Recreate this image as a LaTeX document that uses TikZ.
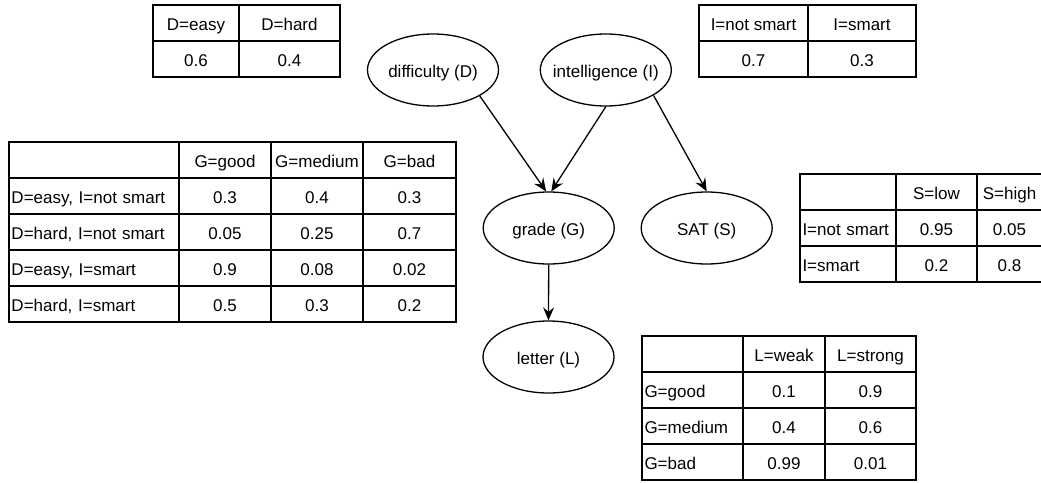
\documentclass[tikz,border=0pt]{standalone}
\usepackage{fontspec}
\setmainfont{Liberation Sans}
\usetikzlibrary{arrows.meta,shapes.geometric}

\tikzset{
  txt/.style={font=\fontsize{17}{20}\selectfont, text height=14pt, text depth=0pt, inner sep=0pt},
  cellbox/.style={txt, draw, line width=1.3pt, inner xsep=2.5pt},
  var/.style={ellipse, draw, line width=1.3pt, minimum width=131pt, minimum height=72pt, inner sep=0pt},
  dep/.style={line width=1.3pt, -{Stealth[length=13pt,width=11pt,inset=4.5pt]}},
}

% \tblcell[options]{name}{x1}{y1}{x2}{y2}{text}: one bordered table cell
\newcommand\tblcell[7][]{%
  \node[cellbox, minimum width={#5-#3}, minimum height={#6-#4}, #1] (#2) at ({(#3+#5)/2},{(#4+#6)/2}) {#7};}

\begin{document}
\begin{tikzpicture}[x=1pt, y=-1pt]
\useasboundingbox (0,0) rectangle (1041,482);

% ---- variables of the network ----
\node[var, label={[txt]center:difficulty (D)}] (D) at (433,70) {};
\node[var, label={[txt]center:intelligence (I)}] (I) at (605.8,70) {};
\node[var, label={[txt]center:grade (G)}] (G) at (548.7,228) {};
\node[var, label={[txt]center:SAT (S)}] (S) at (706.7,228) {};
\node[var, label={[txt]center:letter (L)}] (L) at (548.5,357) {};

% ---- dependencies ----
\draw[dep] (D.-29) -- (G.94);
\draw[dep] (I.south) -- (G.86);
\draw[dep] (I.-28) -- (S.north);
\draw[dep] (G.south) -- (L.north);

% ---- P(D) ----
\tblcell{d00}{153}{5}{239}{41}{D=easy}
\tblcell{d01}{239}{5}{340}{41}{D=hard}
\tblcell{d10}{153}{41}{239}{77}{0.6}
\tblcell{d11}{239}{41}{340}{77}{0.4}

% ---- P(I) ----
\tblcell{i00}{699}{5}{808}{41}{I=not smart}
\tblcell{i01}{808}{5}{916}{41}{I=smart}
\tblcell{i10}{699}{41}{808}{77}{0.7}
\tblcell{i11}{808}{41}{916}{77}{0.3}

% ---- P(G | D, I) ----
\tblcell{g00}{9}{142}{179}{178}{}
\tblcell{g01}{179}{142}{271}{178}{G=good}
\tblcell{g02}{271}{142}{363}{178}{G=medium}
\tblcell{g03}{363}{142}{456}{178}{G=bad}
\tblcell[align=left, text width=165]{g10}{9}{178}{179}{214}{D=easy, I=not smart}
\tblcell{g11}{179}{178}{271}{214}{0.3}
\tblcell{g12}{271}{178}{363}{214}{0.4}
\tblcell{g13}{363}{178}{456}{214}{0.3}
\tblcell[align=left, text width=165]{g20}{9}{214}{179}{250}{D=hard, I=not smart}
\tblcell{g21}{179}{214}{271}{250}{0.05}
\tblcell{g22}{271}{214}{363}{250}{0.25}
\tblcell{g23}{363}{214}{456}{250}{0.7}
\tblcell[align=left, text width=165]{g30}{9}{250}{179}{286}{D=easy, I=smart}
\tblcell{g31}{179}{250}{271}{286}{0.9}
\tblcell{g32}{271}{250}{363}{286}{0.08}
\tblcell{g33}{363}{250}{456}{286}{0.02}
\tblcell[align=left, text width=165]{g40}{9}{286}{179}{322}{D=hard, I=smart}
\tblcell{g41}{179}{286}{271}{322}{0.5}
\tblcell{g42}{271}{286}{363}{322}{0.3}
\tblcell{g43}{363}{286}{456}{322}{0.2}

% ---- P(S | I) ----
\tblcell{s00}{800}{174}{896}{210}{}
\tblcell{s01}{896}{174}{977}{210}{S=low}
\tblcell{s02}{977}{174}{1042}{210}{S=high}
\tblcell[align=left, text width=91]{s10}{800}{210}{896}{246}{I=not smart}
\tblcell{s11}{896}{210}{977}{246}{0.95}
\tblcell{s12}{977}{210}{1042}{246}{0.05}
\tblcell[align=left, text width=91]{s20}{800}{246}{896}{282}{I=smart}
\tblcell{s21}{896}{246}{977}{282}{0.2}
\tblcell{s22}{977}{246}{1042}{282}{0.8}

% ---- P(L | G) ----
\tblcell{l00}{642}{336}{743}{372}{}
\tblcell{l01}{743}{336}{825}{372}{L=weak}
\tblcell{l02}{825}{336}{916}{372}{L=strong}
\tblcell[align=left, text width=96]{l10}{642}{372}{743}{408}{G=good}
\tblcell{l11}{743}{372}{825}{408}{0.1}
\tblcell{l12}{825}{372}{916}{408}{0.9}
\tblcell[align=left, text width=96]{l20}{642}{408}{743}{444}{G=medium}
\tblcell{l21}{743}{408}{825}{444}{0.4}
\tblcell{l22}{825}{408}{916}{444}{0.6}
\tblcell[align=left, text width=96]{l30}{642}{444}{743}{480}{G=bad}
\tblcell{l31}{743}{444}{825}{480}{0.99}
\tblcell{l32}{825}{444}{916}{480}{0.01}
\end{tikzpicture}
\end{document}
